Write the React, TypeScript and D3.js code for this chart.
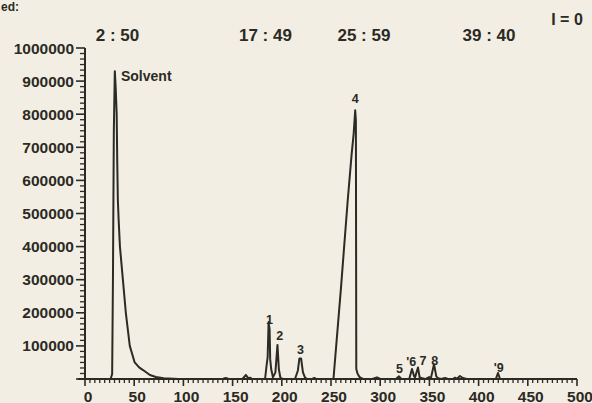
import React from "react";
import * as d3 from "d3";

// Chromatogram trace (scan number vs detector response)
const scanNumbers = [
  0, 26, 27.6, 28.4, 29.3, 30.3, 31.2, 32.2, 32.8, 33.4, 34.2, 35.5, 38.5, 41.5, 45.5, 50.5, 55, 59, 66, 72, 80, 95,
  140, 143, 146, 160, 163.6, 166, 167.7, 170,
  183, 184.5, 185.6, 186.6, 187.6, 188.2, 189.2, 191, 193.5, 195.6, 197, 198.6, 201,
  213.4, 216.3, 217.9, 219.6, 221.5, 223.6, 226, 231, 233, 235,
  252.5, 260, 267, 271, 273, 274.6, 275.3, 275.7, 277, 279, 282, 292, 296.7, 300,
  316, 319.1, 321.5, 329.5, 332.3, 334.5, 335.4, 338.4, 340, 342.5, 346, 349.6, 351.5, 354.7, 357, 359, 362,
  365.9, 369, 374, 376, 378, 381, 384, 388, 417.5, 419.7, 421.8, 500,
];
const responses = [
  0, 0, 15000, 300000, 750000, 930000, 880000, 800000, 650000, 540000, 480000, 400000, 300000, 200000, 100000, 50000, 35000, 27000, 12000, 6000, 2000, 0,
  0, 3000, 0, 0, 12000, 2000, 4000, 0,
  0, 40000, 65000, 172000, 150000, 60000, 30000, 5000, 20000, 103000, 30000, 3000, 0,
  0, 25000, 62000, 62000, 20000, 4000, 0, 0, 3000, 0,
  0, 270000, 540000, 680000, 740000, 812000, 780000, 30000, 16000, 6000, 1000, 0, 5000, 0,
  0, 8000, 0, 0, 30000, 8000, 5000, 35000, 6000, 2000, 0, 6000, 2000, 45000, 8000, 2000, 0,
  3000, 0, 0, 4000, 1000, 9000, 3000, 0, 0, 18000, 0, 0,
];

// Peak annotations: label, scan position, response level of the label baseline
const peakLabels = ["1", "2", "3", "4", "5", "'6", "7", "8", "'9"];
const peakLabelScans = [187.5, 198, 219, 274.6, 319.5, 331.5, 343.5, 355.5, 420.5];
const peakLabelLevels = [166000, 118000, 76000, 833000, 18000, 39000, 42000, 42000, 22000];

// Retention time labels on top
const timeLabels = ["2 : 50", "17 : 49", "25 : 59", "39 : 40"];
const timeLabelScans = [33, 183.4, 283.5, 410.6];

const xTicks = [0, 50, 100, 150, 200, 250, 300, 350, 400, 450, 500];
const yTicks = [0, 100000, 200000, 300000, 400000, 500000, 600000, 700000, 800000, 900000, 1000000];

const W = 592;
const H = 403;
const INK = "#2b2a24";
const FONT = "'Liberation Sans', Arial, Helvetica, sans-serif";

export default function App() {
  const x = d3.scaleLinear().domain([0, 500]).range([85, 577]);
  const y = d3.scaleLinear().domain([0, 1000000]).range([379, 48]);

  const pts: [number, number][] = scanNumbers.map((s, i) => [s, responses[i]]);
  const line = d3
    .line<[number, number]>()
    .x((d) => x(d[0]))
    .y((d) => y(d[1]));

  const xMinor = d3.range(0, 501, 5).filter((v) => v % 50 !== 0);
  const yMinor = d3
    .range(0, 61)
    .filter((i) => i % 6 !== 0)
    .map((i) => (i * 1000000) / 60);

  return (
    <svg
      width={W}
      height={H}
      style={{ position: "absolute", left: 0, top: 0, display: "block" }}
      fontFamily={FONT}
    >
      <rect x={0} y={0} width={W} height={H} fill="#f2eee3" />
      {/* text from the page above */}
      <text x={1} y={11} fontSize={12} fontWeight="bold" fill={INK}>
        ed:
      </text>

      {/* top time labels */}
      {timeLabels.map((t, i) => (
        <text
          key={t}
          x={x(timeLabelScans[i])}
          y={41}
          textAnchor="middle"
          fontSize={17}
          fontWeight="bold"
          fill={INK}
        >
          {t}
        </text>
      ))}
      <text x={567} y={25} textAnchor="middle" fontSize={16} fontWeight="bold" fill={INK}>
        I = 0
      </text>

      {/* y axis */}
      <line x1={x(0)} x2={x(0)} y1={y(1000000)} y2={y(0)} stroke={INK} strokeWidth={2} />
      {yTicks.map((v) => (
        <g key={v}>
          <line x1={x(0) - 9} x2={x(0)} y1={y(v)} y2={y(v)} stroke={INK} strokeWidth={1.6} />
          {v > 0 && (
            <text
              x={74}
              y={y(v) + 5.5}
              textAnchor="end"
              fontSize={15.5}
              fontWeight="bold"
              fill={INK}
            >
              {v}
            </text>
          )}
        </g>
      ))}
      {yMinor.map((v) => (
        <line key={v} x1={x(0) - 5} x2={x(0)} y1={y(v)} y2={y(v)} stroke={INK} strokeWidth={1.3} />
      ))}

      {/* x axis */}
      <line x1={x(0) - 7} x2={x(500)} y1={y(0)} y2={y(0)} stroke={INK} strokeWidth={2} />
      {xTicks.map((v) => (
        <g key={v}>
          <line x1={x(v)} x2={x(v)} y1={y(0)} y2={y(0) + 7} stroke={INK} strokeWidth={1.6} />
          <text x={x(v) + 3} y={401.5} textAnchor="middle" fontSize={15.5} fontWeight="bold" fill={INK}>
            {v}
          </text>
        </g>
      ))}
      {xMinor.map((v) => (
        <line key={v} x1={x(v)} x2={x(v)} y1={y(0)} y2={y(0) + 4} stroke={INK} strokeWidth={1.3} />
      ))}

      {/* trace */}
      <path d={line(pts) || ""} fill="none" stroke={INK} strokeWidth={2} strokeLinejoin="round" />

      {/* labels */}
      <text x={x(31.5) + 5} y={81} fontSize={14} fontWeight="bold" fill={INK}>
        Solvent
      </text>
      {peakLabels.map((l, i) => (
        <text
          key={l}
          x={x(peakLabelScans[i])}
          y={y(peakLabelLevels[i])}
          textAnchor="middle"
          fontSize={12.5}
          fontWeight="bold"
          fill={INK}
        >
          {l}
        </text>
      ))}
    </svg>
  );
}
